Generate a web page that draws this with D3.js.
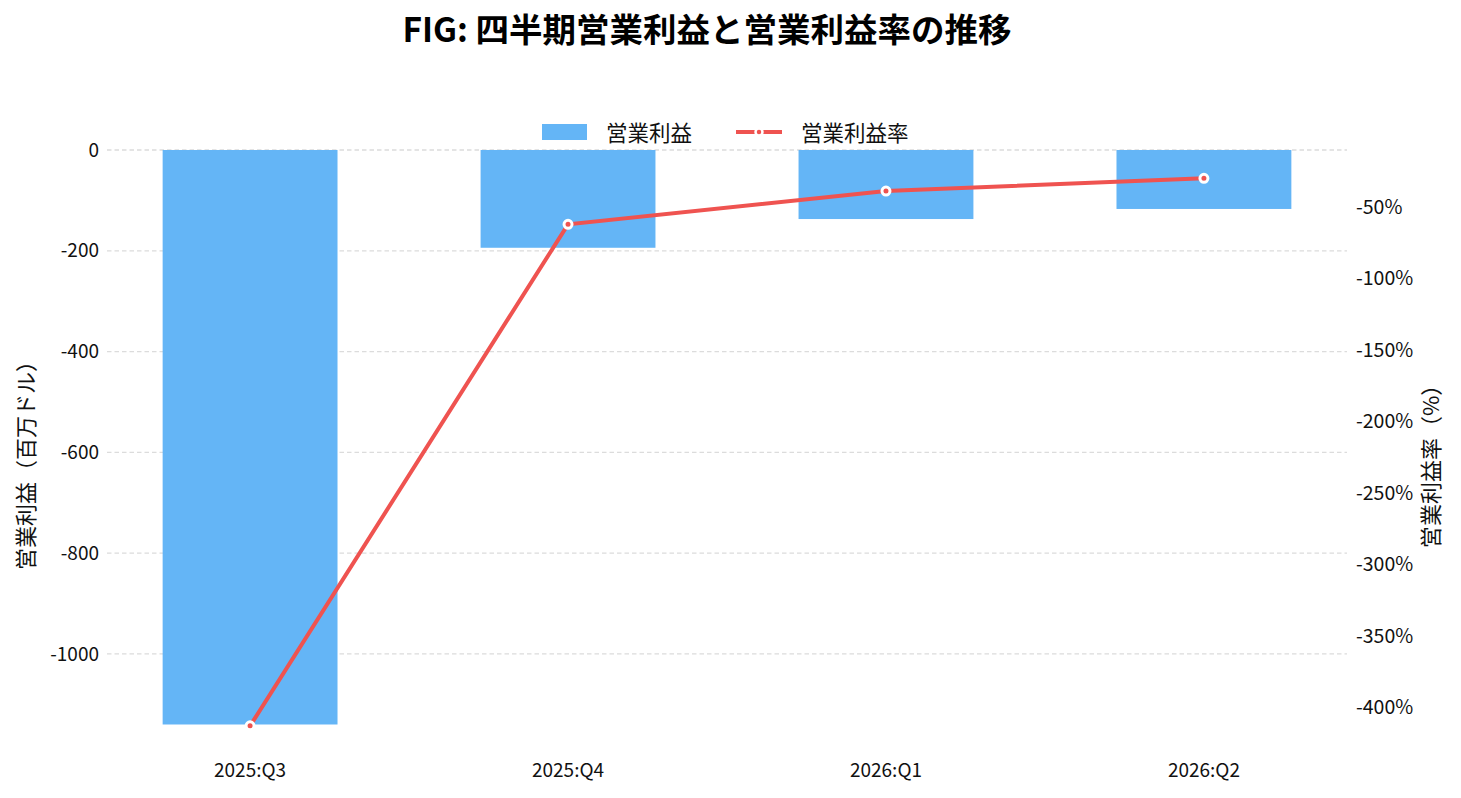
<!DOCTYPE html>
<html><head><meta charset="utf-8">
<script src="https://cdn.jsdelivr.net/npm/d3@7"></script>
<style>
body{margin:0;background:#fff;}
text{font-family:"Noto Sans CJK JP","Noto Sans",sans-serif;}
</style></head>
<body><svg id="c" width="1461" height="798"></svg>
<script>
const categories = ["2025:Q3","2025:Q4","2026:Q1","2026:Q2"];
const operatingIncome = [-1140, -194, -137, -117];
const operatingMargin = [-413, -62.1, -38.8, -29.9];
const leftTicks = [0, -200, -400, -600, -800, -1000];
const rightTicks = [-50, -100, -150, -200, -250, -300, -350, -400];

const svg = d3.select("#c");
const plotTop = 150, plotBottom = 725, plotLeft = 107, plotRight = 1347;

const x = d3.scaleBand().domain(categories).range([plotLeft, plotRight]).paddingInner(0.45).paddingOuter(0.175);
const yL = d3.scaleLinear().domain([-1141, 0]).range([plotBottom, plotTop]);
const yR = d3.scaleLinear().domain([-412.4, -10.1]).range([plotBottom, plotTop]);

// gridlines
svg.append("g").selectAll("line").data(leftTicks).join("line")
  .attr("x1", plotLeft).attr("x2", plotRight)
  .attr("y1", d => yL(d)).attr("y2", d => yL(d))
  .attr("stroke", "#dcdcdc").attr("stroke-width", 1.3).attr("stroke-dasharray", "4.5,3");

// left axis
const axL = d3.axisLeft(yL).tickValues(leftTicks).tickSize(0).tickPadding(8).tickFormat(d => String(d));
const gL = svg.append("g").attr("transform", `translate(${plotLeft},0)`).call(axL);
gL.select(".domain").remove();
gL.selectAll("text").attr("font-size", 19).attr("fill", "#111");

// right axis
const axR = d3.axisRight(yR).tickValues(rightTicks).tickSize(0).tickPadding(9).tickFormat(d => d + "%");
const gR = svg.append("g").attr("transform", `translate(${plotRight},0)`).call(axR);
gR.select(".domain").remove();
gR.selectAll("text").attr("font-size", 19.5).attr("fill", "#111");

// bars
svg.append("g").selectAll("rect").data(categories).join("rect")
  .attr("x", d => x(d)).attr("width", x.bandwidth())
  .attr("y", (d, i) => yL(Math.max(0, operatingIncome[i])))
  .attr("height", (d, i) => Math.abs(yL(operatingIncome[i]) - yL(0)))
  .attr("fill", "#64B5F6");

// line
const line = d3.line().x((d, i) => x(categories[i]) + x.bandwidth() / 2).y(d => yR(d));
svg.append("path").datum(operatingMargin).attr("d", line)
  .attr("fill", "none").attr("stroke", "#EF5350").attr("stroke-width", 4);
svg.append("g").selectAll("circle").data(operatingMargin).join("circle")
  .attr("cx", (d, i) => x(categories[i]) + x.bandwidth() / 2).attr("cy", d => yR(d))
  .attr("r", 4).attr("fill", "#EF5350").attr("stroke", "#fff").attr("stroke-width", 3);

// x labels
const axB = d3.axisBottom(x).tickSize(0).tickPadding(0);
const gB = svg.append("g").attr("transform", `translate(0,${plotBottom + 38})`).call(axB);
gB.select(".domain").remove();
gB.selectAll("text").attr("font-size", 19).attr("fill", "#111");

// axis titles
svg.append("text").attr("transform", "translate(34,460) rotate(-90)").attr("text-anchor", "middle")
  .attr("font-size", 22).attr("fill", "#111").text("営業利益（百万ドル）");
svg.append("text").attr("transform", "translate(1439,461) rotate(-90)").attr("text-anchor", "middle")
  .attr("font-size", 22).attr("fill", "#111").text("営業利益率（%）");

// title
svg.append("text").attr("x", 707).attr("y", 42).attr("text-anchor", "middle")
  .attr("font-size", 33.5).attr("font-weight", "bold").attr("fill", "#000")
  .text("FIG: 四半期営業利益と営業利益率の推移");

// legend
const lg = svg.append("g");
lg.append("rect").attr("x", 542).attr("y", 124).attr("width", 45).attr("height", 16).attr("fill", "#64B5F6");
lg.append("text").attr("x", 606).attr("y", 140.5).attr("font-size", 21.5).attr("fill", "#111").text("営業利益");
lg.append("line").attr("x1", 736).attr("x2", 782).attr("y1", 132).attr("y2", 132)
  .attr("stroke", "#EF5350").attr("stroke-width", 4);
lg.append("circle").attr("cx", 759).attr("cy", 132).attr("r", 3.5).attr("fill", "#EF5350")
  .attr("stroke", "#fff").attr("stroke-width", 2.5);
lg.append("text").attr("x", 801).attr("y", 140.5).attr("font-size", 21.5).attr("fill", "#111").text("営業利益率");
</script></body></html>
